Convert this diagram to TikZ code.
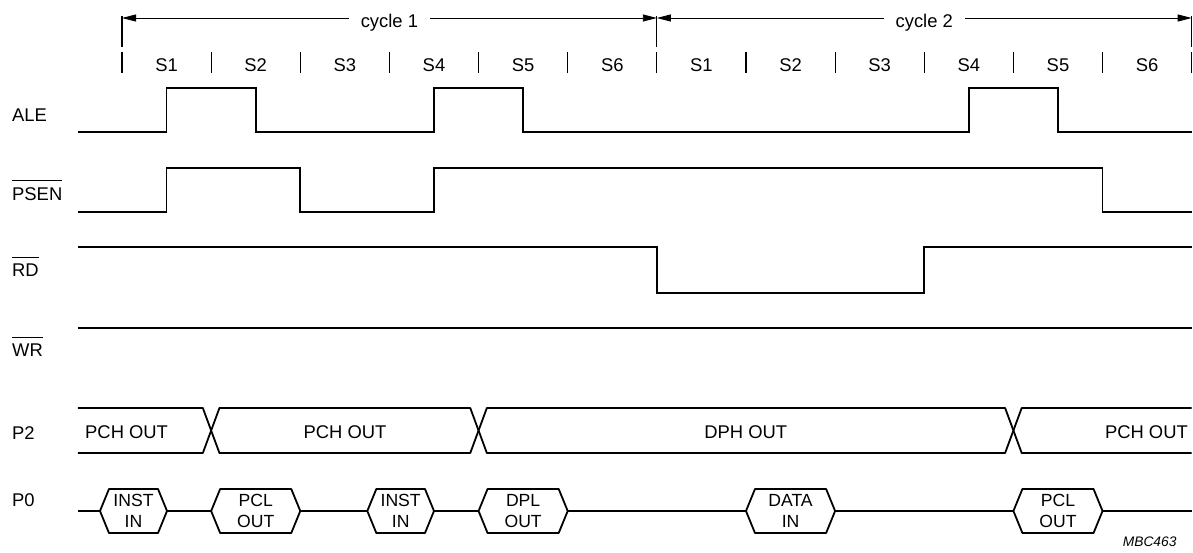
\documentclass[tikz,border=0pt]{standalone}
\usepackage{fontspec}
\setmainfont{Liberation Sans}
\usetikzlibrary{arrows.meta}
\newcommand\myovl[1]{\setbox0\hbox{#1}\rlap{\rule[19pt]{\wd0}{1pt}}\box0}
\newcommand\pobox[2]{\draw[busline] (#1,511) -- ({#1+0.101},489) -- ({#2-0.101},489) -- (#2,511) -- ({#2-0.101},533) -- ({#1+0.101},533) -- cycle;}
\begin{document}
\begin{tikzpicture}[x=1pt,y=-1pt,
  sigline/.style={line width=1.8pt,line join=miter,line cap=butt},
  busline/.style={line width=1.8pt,line join=round},
  tickline/.style={line width=1.1pt},
  dimline/.style={line width=0.9pt,{Triangle[length=14pt,width=7pt]}-{Triangle[length=14pt,width=7pt]}},
  lab/.style={font=\fontsize{18.4}{20}\selectfont,inner sep=0pt},
  boxtxt/.style={font=\fontsize{17.6}{20.5}\selectfont,align=center,inner sep=0pt},
  cyc/.style={lab,fill=white,inner xsep=12pt,inner ysep=2pt,anchor=base}]
\useasboundingbox (0,0) rectangle (1193,552);

% signal names
\node[lab,anchor=base west] (ale)  at (12,121)   {ALE};
\node[lab,anchor=base west] (psen) at (12,200)   {\myovl{PSEN}};
\node[lab,anchor=base west] (rd)   at (12,276.7) {\myovl{RD}};
\node[lab,anchor=base west] (wr)   at (12,356.7) {\myovl{WR}};
\node[lab,anchor=base west] (p2)   at (12,439)   {P2};
\node[lab,anchor=base west] (p0)   at (12,506)   {P0};

% P2 texts
\node[lab,anchor=base west] (p2a) at (85,438)   {PCH OUT};
\node[lab,anchor=base]      (p2b) at (345,438)  {PCH OUT};
\node[lab,anchor=base]      (p2c) at (745.8,438){DPH OUT};
\node[lab,anchor=base east] (p2d) at (1188,438) {PCH OUT};

% figure code
\node[font=\fontsize{13.8}{16}\selectfont\itshape,anchor=base east,inner sep=0pt] (code) at (1176.7,546.7) {MBC463};

\begin{scope}[xshift=122pt,x=89.14pt]
  % state ticks
  \foreach \i in {0,...,12} \draw[tickline] (\i,52) -- (\i,73);
  \foreach \i in {0,6,12} \draw[tickline] (\i,16) -- (\i,47);
  \foreach \i in {1,...,6} {
    \node[lab,anchor=base] (sa\i) at ({\i-0.5},71.7) {S\i};
    \node[lab,anchor=base] (sb\i) at ({\i+5.5},71.7) {S\i};
  }
  % cycle arrows
  \draw[dimline] (0,18) -- (6,18);
  \draw[dimline] (6,18) -- (12,18);
  \node[cyc] (cyc1) at (3,27.7) {cycle 1};
  \node[cyc] (cyc2) at (9,27.7) {cycle 2};

  % ALE
  \draw[sigline] (-0.494,132) -- (0.5,132) -- (0.5,88) -- (1.5,88) -- (1.5,132)
     -- (3.5,132) -- (3.5,88) -- (4.5,88) -- (4.5,132) -- (9.5,132) -- (9.5,88)
     -- (10.5,88) -- (10.5,132) -- (12,132);
  % PSEN
  \draw[sigline] (-0.494,212) -- (0.5,212) -- (0.5,168) -- (2,168) -- (2,212)
     -- (3.5,212) -- (3.5,168) -- (11,168) -- (11,212) -- (12,212);
  % RD
  \draw[sigline] (-0.494,247) -- (6,247) -- (6,293) -- (9,293) -- (9,247) -- (12,247);
  % WR
  \draw[sigline] (-0.494,328) -- (12,328);

  % P2 bus
  \draw[busline] (-0.494,408) -- (0.907,408) -- (1,430.5) -- (0.907,453) -- (-0.494,453);
  \draw[busline] (1,430.5) -- (1.093,408) -- (3.907,408) -- (4,430.5) -- (3.907,453) -- (1.093,453) -- cycle;
  \draw[busline] (4,430.5) -- (4.093,408) -- (9.907,408) -- (10,430.5) -- (9.907,453) -- (4.093,453) -- cycle;
  \draw[busline] (12,408) -- (10.093,408) -- (10,430.5) -- (10.093,453) -- (12,453);

  % P0 bus
  \draw[sigline] (-0.494,511) -- (-0.247,511) (0.505,511) -- (1,511) (2,511) -- (2.752,511)
     (3.5,511) -- (4,511) (5,511) -- (7,511) (8,511) -- (10,511) (11,511) -- (12,511);
  \pobox{-0.247}{0.505}
  \pobox{1}{2}
  \pobox{2.752}{3.5}
  \pobox{4}{5}
  \pobox{7}{8}
  \pobox{10}{11}
  \node[boxtxt] (b1) at (0.129,511) {INST\\IN};
  \node[boxtxt] (b2) at (1.5,511)   {PCL\\OUT};
  \node[boxtxt] (b3) at (3.126,511) {INST\\IN};
  \node[boxtxt] (b4) at (4.5,511)   {DPL\\OUT};
  \node[boxtxt] (b5) at (7.5,511)   {DATA\\IN};
  \node[boxtxt] (b6) at (10.5,511)  {PCL\\OUT};
\end{scope}
\end{tikzpicture}
\end{document}
